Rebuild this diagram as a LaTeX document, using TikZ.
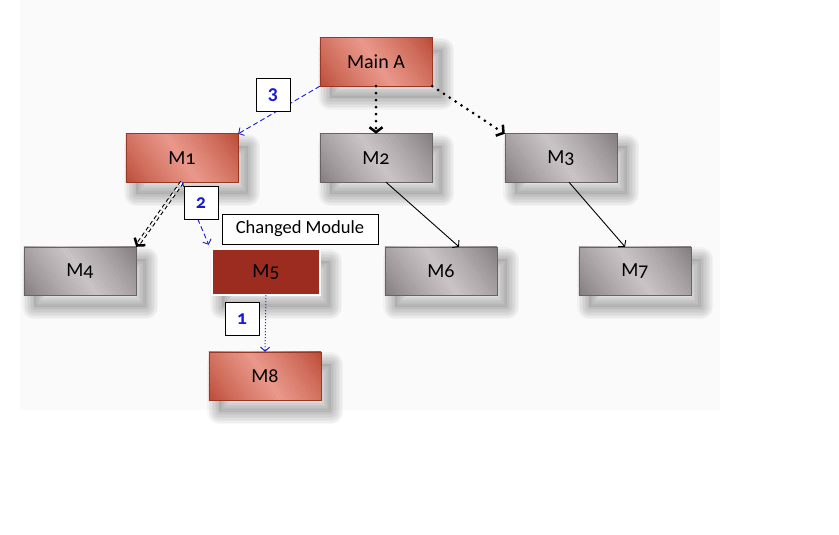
\documentclass[tikz,border=0pt]{standalone}
\usepackage{fontspec}
\setmainfont{Carlito}[Numbers=OldStyle]
\usetikzlibrary{arrows.meta}
\definecolor{redE}{HTML}{B5412A}
\definecolor{redM}{HTML}{EA998D}
\definecolor{grayE}{HTML}{7A7375}
\definecolor{grayM}{HTML}{CBC5C7}
\definecolor{darkred}{HTML}{9C2B20}
\definecolor{lblue}{HTML}{1A1AD0}
\tikzset{
  x=1pt,y=1pt,
  sl/.style={draw=black,line width=#1,draw opacity=0.03,line join=round,transform canvas={shift={(10pt,-12pt)}}},
  shad/.style={
    preaction={sl=24pt},preaction={sl=21pt},preaction={sl=18pt},preaction={sl=15pt},preaction={sl=12pt},
    preaction={sl=9pt},preaction={sl=6pt},preaction={sl=3pt},
    preaction={fill=black,fill opacity=0.08,transform canvas={shift={(10pt,-12pt)}}}},
  box/.style={shad,minimum width=112pt,minimum height=48pt,inner sep=0pt,font=\fontsize{20}{24}\selectfont},
  boxtext/.style={inner sep=0pt,font=\fontsize{20}{24}\selectfont},
  numbox/.style={draw,fill=white,minimum width=34pt,minimum height=33pt,inner sep=0pt,text=lblue,font=\fontsize{20}{22}\selectfont\bfseries},
  bluedash/.style={draw=lblue,line width=0.9pt,dash pattern=on 5pt off 3pt,-{Straight Barb[length=4pt,width=9pt]}},
  bigdot/.style={line width=3pt,line cap=round,dash pattern=on 0pt off 7pt,-{Straight Barb[length=5pt,width=13pt,line width=2.5pt]}},
  thinarr/.style={draw,line width=0.9pt,-{Straight Barb[length=4pt,width=10pt]}},
}
% name, position, text, edge colour, middle colour
\newcommand\gradbox[5]{%
  \node[box,fill=#4] (#1) at (#2) {};
  \begin{scope}
    \clip (#1.south west) rectangle (#1.north east);
    \begin{scope}[shift={(#1.center)},rotate=35]
      \foreach \i in {0,...,39}{%
        \pgfmathtruncatemacro\pc{100*(1-abs(2*(\i+0.5)/40-1))^0.8}%
        \fill[#5!\pc!#4] (-64+\i*3.2,-80) rectangle ++(3.5,160);}
    \end{scope}
  \end{scope}
  \draw[#4!85!black,line width=0.6pt] (#1.south west) rectangle (#1.north east);
  \node[boxtext] (#1-t) at (#1.center) {#3};
}
\begin{document}
\begin{tikzpicture}
\useasboundingbox (0,0) rectangle (839,-535);
\fill[white] (0,0) rectangle (839,-535);
\fill[gray!4] (20,0) rectangle (720,-410);
\gradbox{A}{376,-62}{Main A}{redE}{redM}
\gradbox{m1}{182,-158}{M1}{redE}{redM}
\gradbox{m2}{376,-158}{M2}{grayE}{grayM}
\gradbox{m3}{561,-158}{M3}{grayE}{grayM}
\gradbox{m4}{80,-271}{M4}{grayE}{grayM}
\node[box,fill=darkred,draw=white,line width=2.5pt,minimum width=108pt,minimum height=46pt] (m5) at (266,-272) {M5};
\gradbox{m6}{441,-271}{M6}{grayE}{grayM}
\gradbox{m7}{635,-271}{M7}{grayE}{grayM}
\gradbox{m8}{265,-376}{M8}{redE}{redM}
\node[draw,fill=white,minimum width=156pt,minimum height=30pt,inner sep=0pt,font=\fontsize{18.5}{22}\selectfont] (cm) at (300,-229) {Changed Module};
\draw[bluedash] (A.south west) -- (m1.north east);
\draw[bigdot] (A.south) -- (m2.north);
\draw[bigdot] (A.south east) -- (m3.north west);
\draw[double,line width=1.1pt,double distance=2pt,dash pattern=on 4pt off 3pt,-{Straight Barb[length=5pt,width=13pt,line width=2.5pt]}] (m1.south) -- (m4.north east);
\draw[bluedash] (m1.south) -- ([xshift=-2pt,yshift=3pt]m5.north west);
\draw[draw=lblue,dotted,line width=1pt,-{Straight Barb[length=4pt,width=9pt]}] ([yshift=1pt]m5.south) -- (m8.north);
\draw[thinarr] ([xshift=10pt]m2.south) -- ([xshift=18pt]m6.north);
\draw[thinarr] ([xshift=8pt]m3.south) -- ([xshift=-10pt]m7.north);
\node[numbox] (n3) at (273,-95) {3};
\node[numbox] (n2) at (201,-203) {2};
\node[numbox] (n1) at (242,-319) {1};
\end{tikzpicture}
\end{document}
